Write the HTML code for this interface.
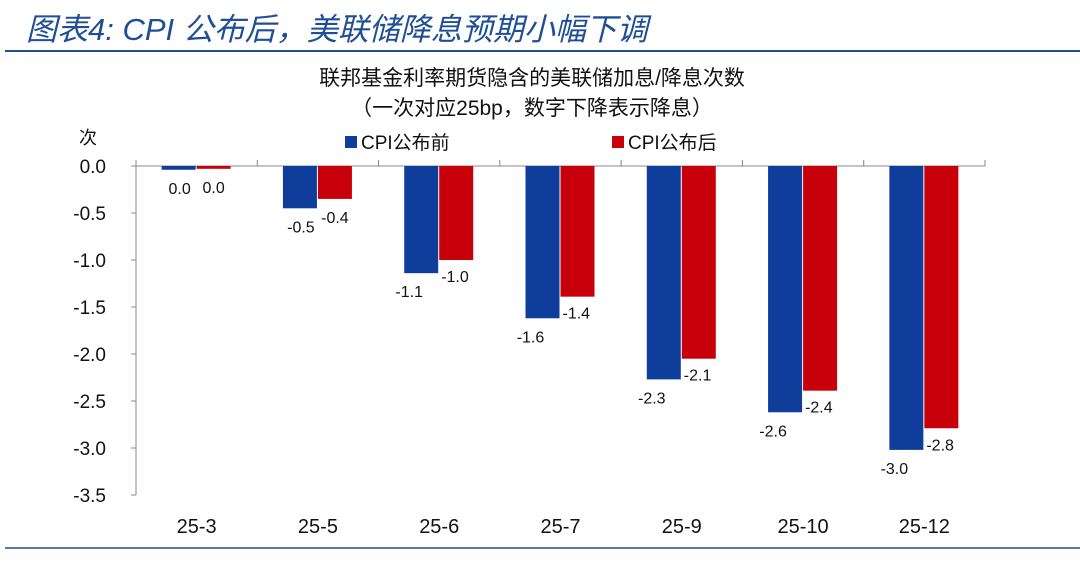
<!DOCTYPE html>
<html><head><meta charset="utf-8">
<style>
body{margin:0;background:#fff;}
svg{display:block;font-family:"Liberation Sans","Noto Sans CJK SC",sans-serif;}
</style></head>
<body>
<svg id="c" width="1080" height="587" viewBox="0 0 1080 587">
<text x="26" y="40" font-size="31" font-style="italic" fill="#1f4e96">图表4:  CPI 公布后，美联储降息预期小幅下调</text>
<line x1="5" y1="51" x2="1080" y2="51" stroke="#1f4e96" stroke-width="2"/>
<text x="532" y="85" font-size="21" text-anchor="middle" fill="#111">联邦基金利率期货隐含的美联储加息/降息次数</text>
<text x="532" y="115" font-size="21" text-anchor="middle" fill="#111">（一次对应25bp，数字下降表示降息）</text>
<text x="88" y="144" font-size="18" text-anchor="middle" fill="#111">次</text>
<g><rect x="345" y="136" width="12" height="12" fill="#0e3d9c"/><text x="361" y="149" font-size="19" fill="#111">CPI公布前</text></g>
<g><rect x="612" y="136" width="12" height="12" fill="#c8000b"/><text x="628" y="149" font-size="19" fill="#111">CPI公布后</text></g>
<line x1="5" y1="548" x2="1080" y2="548" stroke="#1f4e96" stroke-width="1.5"/>
<g id="plot"></g>
</svg>
<script>
const categories=["25-3","25-5","25-6","25-7","25-9","25-10","25-12"];
const before=[-0.04,-0.45,-1.14,-1.62,-2.27,-2.62,-3.02];
const after=[-0.03,-0.35,-1.0,-1.39,-2.05,-2.39,-2.79];
const beforeLabels=["0.0","-0.5","-1.1","-1.6","-2.3","-2.6","-3.0"];
const afterLabels=["0.0","-0.4","-1.0","-1.4","-2.1","-2.4","-2.8"];
const yTicks=[0,-0.5,-1,-1.5,-2,-2.5,-3,-3.5];

const NS="http://www.w3.org/2000/svg";
const g=document.getElementById('plot');
const left=136,right=985,top0=166,unit=94;
const bw=(right-left)/categories.length;
function y(v){return top0-v*unit;}
function xc(i){return left+bw*(i+0.5);}
function el(t,a,txt){const e=document.createElementNS(NS,t);for(const k in a)e.setAttribute(k,a[k]);if(txt!==undefined)e.textContent=txt;g.appendChild(e);return e;}

let ax=el('line',{x1:left,y1:y(0),x2:left,y2:y(-3.5),stroke:'#888'});


yTicks.forEach(v=>{
  const t=el('text',{x:left-30,y:y(v)+7,'font-size':19,'text-anchor':'end',fill:'#111'},v.toFixed(1));
  
  
  const tk=el('line',{x1:left-5,y1:y(v),x2:left,y2:y(v),stroke:'#888'});
  
  
});
let xa=el('line',{x1:left,y1:y(0),x2:right,y2:y(0),stroke:'#888'});


for(let i=0;i<=categories.length;i++){
  const tk=el('line',{x1:left+bw*i,y1:y(0)-6,x2:left+bw*i,y2:y(0),stroke:'#888'});
  
  
}
categories.forEach((c,i)=>{
  const cx=xc(i);
  const t=el('text',{x:cx,y:533,'font-size':20,'text-anchor':'middle',fill:'#111'},c);
  
  
  const b1=el('rect',{x:cx-35,y:y(0),width:34,height:Math.max(1,y(before[i])-y(0)),fill:'#0e3d9c'});
  
  
  const b2=el('rect',{x:cx,y:y(0),width:34,height:Math.max(1,y(after[i])-y(0)),fill:'#c8000b'});
  
  
  let l1,l2;
  if(i<2){
    l1=el('text',{x:cx-17,y:y(before[i])+24,'font-size':16,'text-anchor':'middle',fill:'#111'},beforeLabels[i]);
    l2=el('text',{x:cx+17,y:y(after[i])+24,'font-size':16,'text-anchor':'middle',fill:'#111'},afterLabels[i]);
  }else{
    l1=el('text',{x:cx-30,y:y(before[i])+24,'font-size':16,'text-anchor':'middle',fill:'#111'},beforeLabels[i]);
    l2=el('text',{x:cx+2,y:y(after[i])+22,'font-size':16,'text-anchor':'start',fill:'#111'},afterLabels[i]);
  }
  
  
  
  
});
</script>
</body></html>
